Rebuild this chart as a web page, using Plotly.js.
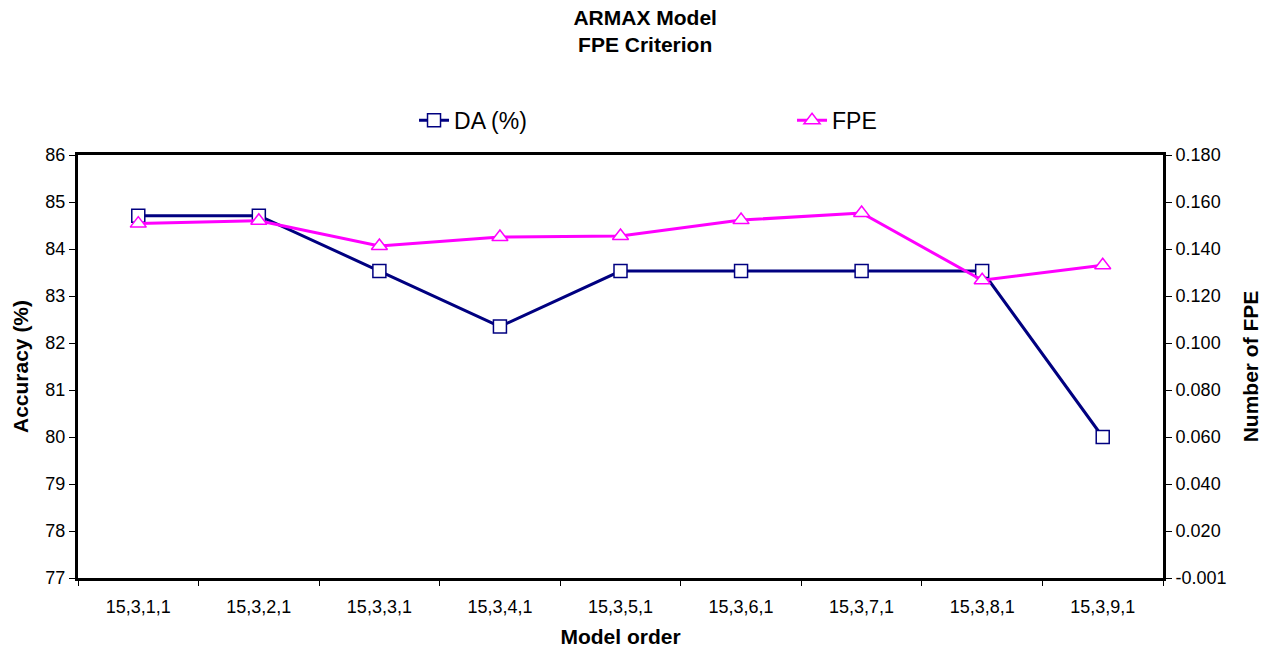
<!DOCTYPE html>
<html>
<head>
<meta charset="utf-8">
<script src="https://cdn.plot.ly/plotly-3.0.1.min.js"></script>
<style>
  html, body { margin: 0; padding: 0; background: #fff; }
  #chart { width: 1270px; height: 650px; }
</style>
</head>
<body>
<div id="chart"></div>
<script>
const modelOrders = ["15,3,1,1", "15,3,2,1", "15,3,3,1", "15,3,4,1", "15,3,5,1", "15,3,6,1", "15,3,7,1", "15,3,8,1", "15,3,9,1"];
const daValues = [84.71, 84.71, 83.53, 82.35, 83.53, 83.53, 83.53, 83.53, 80.00];
const fpeValues = [0.1503, 0.1515, 0.1408, 0.1446, 0.1450, 0.1518, 0.1548, 0.1262, 0.1326];
const fpeTickVals = [-0.0005, 0.0195, 0.0395, 0.0595, 0.0795, 0.0995, 0.1195, 0.1395, 0.1595, 0.1795];
const fpeTickText = ["-0.001", "0.020", "0.040", "0.060", "0.080", "0.100", "0.120", "0.140", "0.160", "0.180"];

const FONT = "Liberation Sans, Arial, sans-serif";

const traces = [
  {
    x: modelOrders, y: daValues, name: "DA (%)", type: "scatter", mode: "lines+markers",
    line: { color: "#000080", width: 3 },
    marker: { symbol: "square", size: 13, color: "#ffffff", line: { color: "#000080", width: 1.5 } },
    yaxis: "y"
  },
  {
    x: modelOrders, y: fpeValues, name: "FPE", type: "scatter", mode: "lines+markers",
    line: { color: "#ff00ff", width: 3 },
    marker: { symbol: "triangle-up", size: 14, color: "#ffffff", line: { color: "#ff00ff", width: 1.5 } },
    yaxis: "y2"
  }
];

const layout = {
  width: 1270, height: 650,
  paper_bgcolor: "#ffffff", plot_bgcolor: "#ffffff",
  margin: { l: 78, r: 107, t: 155, b: 72 },
  font: { family: FONT, color: "#000000", size: 18 },
  title: {
    text: "<b>ARMAX Model</b><br><b>FPE Criterion</b>",
    font: { family: FONT, size: 21, color: "#000" },
    x: 0.508, xanchor: "center", xref: "container",
    y: 0.962, yanchor: "top", yref: "container"
  },
  showlegend: true,
  legend: {
    orientation: "h", xref: "container", yref: "container",
    x: 0.326, xanchor: "left", y: 0.815, yanchor: "middle",
    font: { family: FONT, size: 23 },
    entrywidth: 333, entrywidthmode: "pixels",
    bgcolor: "rgba(0,0,0,0)", traceorder: "normal"
  },
  xaxis: {
    type: "category", range: [-0.5, 8.5],
    showline: true, linecolor: "#000", linewidth: 3, mirror: true,
    ticks: "outside", tickson: "boundaries", ticklen: 5, tickcolor: "#000", tickwidth: 1,
    showgrid: false, zeroline: false,
    ticklabelstandoff: 10,
    tickfont: { family: FONT, size: 18 },
    title: { text: "<b>Model order</b>", font: { family: FONT, size: 21 }, standoff: 14 },
    automargin: false
  },
  yaxis: {
    range: [77, 86], dtick: 1, tick0: 77,
    showline: true, linecolor: "#000", linewidth: 3, mirror: false,
    ticks: "outside", ticklen: 6, tickcolor: "#000", tickwidth: 1,
    showgrid: false, zeroline: false,
    tickfont: { family: FONT, size: 18 },
    title: { text: "<b>Accuracy (%)</b>", font: { family: FONT, size: 21 }, standoff: 12 },
    automargin: false
  },
  yaxis2: {
    overlaying: "y", side: "right",
    range: [-0.0005, 0.1795],
    tickmode: "array", tickvals: fpeTickVals, ticktext: fpeTickText,
    showline: true, linecolor: "#000", linewidth: 3,
    ticks: "outside", ticklen: 6, tickcolor: "#000", tickwidth: 1,
    showgrid: false, zeroline: false,
    tickfont: { family: FONT, size: 18 },
    title: { text: "<b>Number of FPE</b>", font: { family: FONT, size: 21 }, standoff: 18 },
    automargin: false
  }
};

Plotly.newPlot("chart", traces, layout, { displayModeBar: false, staticPlot: true });
</script>
</body>
</html>
